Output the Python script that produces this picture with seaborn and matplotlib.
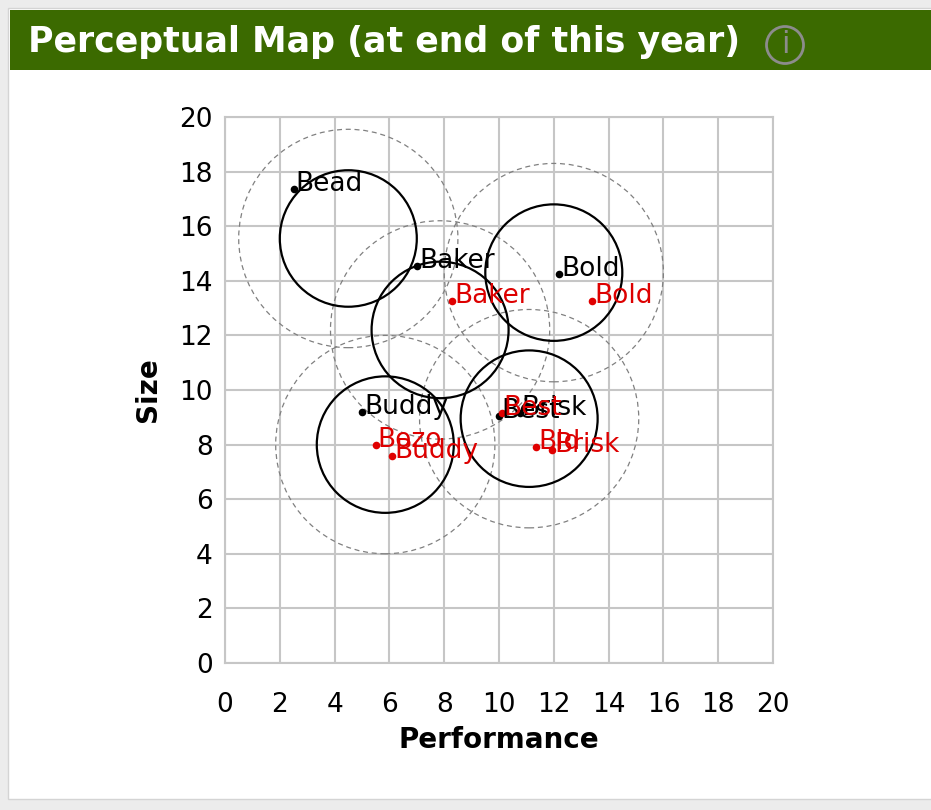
"""Perceptual map (at end of this year)"""

import numpy as np
import pandas as pd
import seaborn as sns
import matplotlib.pyplot as plt
from matplotlib.patches import Circle, Rectangle

# Segment centres (fine cut solid, rough cut dashed)
seg_x = [4.5, 7.85, 12.0, 5.85, 11.1]
seg_y = [15.55, 12.2, 14.3, 8.0, 8.95]
fine_r = 2.5
rough_r = 4.0

# Products now (black)
now_name = ["Bead", "Baker", "Bold", "Buddy", "Best", "Brisk"]
now_x = [2.5, 7.0, 12.2, 5.0, 10.0, 10.75]
now_y = [17.35, 14.55, 14.25, 9.2, 9.05, 9.15]

# Products at end of year (red)
end_name = ["Baker", "Bold", "Bozo", "Buddy", "Best", "Bid", "Brisk"]
end_x = [8.3, 13.4, 5.5, 6.1, 10.1, 11.35, 11.95]
end_y = [13.25, 13.25, 8.0, 7.6, 9.15, 7.9, 7.8]

ticks = list(range(0, 21, 2))

now = pd.DataFrame({"name": now_name, "Performance": now_x, "Size": now_y})
end = pd.DataFrame({"name": end_name, "Performance": end_x, "Size": end_y})

sns.set_style("white")
plt.rcParams["font.family"] = ["DejaVu Sans"]

fig = plt.figure(figsize=(9.31, 8.10), dpi=100, facecolor="#ececec")

# card and header
fig.patches.append(Rectangle((8 / 931, 11 / 810), 1, 791 / 810, transform=fig.transFigure,
                             facecolor="white", edgecolor="#d4d4d4", lw=1, zorder=-3))
fig.patches.append(Rectangle((10 / 931, 740 / 810), 1, 60 / 810, transform=fig.transFigure,
                             facecolor="#3b6a00", edgecolor="none", zorder=-2))
fig.text(28 / 931, 768 / 810, "Perceptual Map (at end of this year)", color="white",
         fontsize=25, fontweight="bold", va="center", ha="left")
fig.patches.append(Circle((7.85, 7.65), 0.185, transform=fig.dpi_scale_trans,
                          facecolor="none", edgecolor="#8c8c8c", lw=2, zorder=-1))
fig.text(7.85 / 9.31, 7.65 / 8.10, "i", color="#8c8c8c", fontsize=22,
         ha="center", va="center")

ax = fig.add_axes([225 / 931, 147 / 810, 548 / 931, 546 / 810])
ax.set_facecolor("white")

for cx, cy in zip(seg_x, seg_y):
    ax.add_patch(Circle((cx, cy), rough_r, facecolor="none", edgecolor="#808080",
                        lw=0.9, ls=(0, (4, 3)), zorder=3))
    ax.add_patch(Circle((cx, cy), fine_r, facecolor="none", edgecolor="black",
                        lw=1.6, zorder=4))

sns.scatterplot(data=now, x="Performance", y="Size", color="black", s=30,
                edgecolor="black", linewidth=0, zorder=5, ax=ax)
sns.scatterplot(data=end, x="Performance", y="Size", color="#e00000", s=30,
                edgecolor="#e00000", linewidth=0, zorder=6, ax=ax)

for _, r in now.iterrows():
    ax.annotate(r["name"], (r["Performance"], r["Size"]), xytext=(1.5, -1.5),
                textcoords="offset points", fontsize=19, color="black",
                va="baseline", ha="left", zorder=7)
for _, r in end.iterrows():
    ax.annotate(r["name"], (r["Performance"], r["Size"]), xytext=(1.5, -1.5),
                textcoords="offset points", fontsize=19, color="#dd0000",
                va="baseline", ha="left", zorder=8)

ax.set_xlim(0, 20)
ax.set_ylim(0, 20)
ax.set_xticks(ticks)
ax.set_yticks(ticks)
ax.grid(True, color="#c6c6c6", lw=1.5, zorder=1)
ax.set_axisbelow(True)
for s in ax.spines.values():
    s.set_color("#c6c6c6")
    s.set_linewidth(1.5)
ax.tick_params(length=0, labelsize=19, labelcolor="black")
ax.tick_params(axis="x", pad=21)
ax.tick_params(axis="y", pad=9)
ax.set_xlabel("Performance", fontsize=20, fontweight="bold", labelpad=6, color="black")
ax.set_ylabel("Size", fontsize=20, fontweight="bold", labelpad=12, color="black")

plt.savefig("out.png", dpi=100, facecolor=fig.get_facecolor())
